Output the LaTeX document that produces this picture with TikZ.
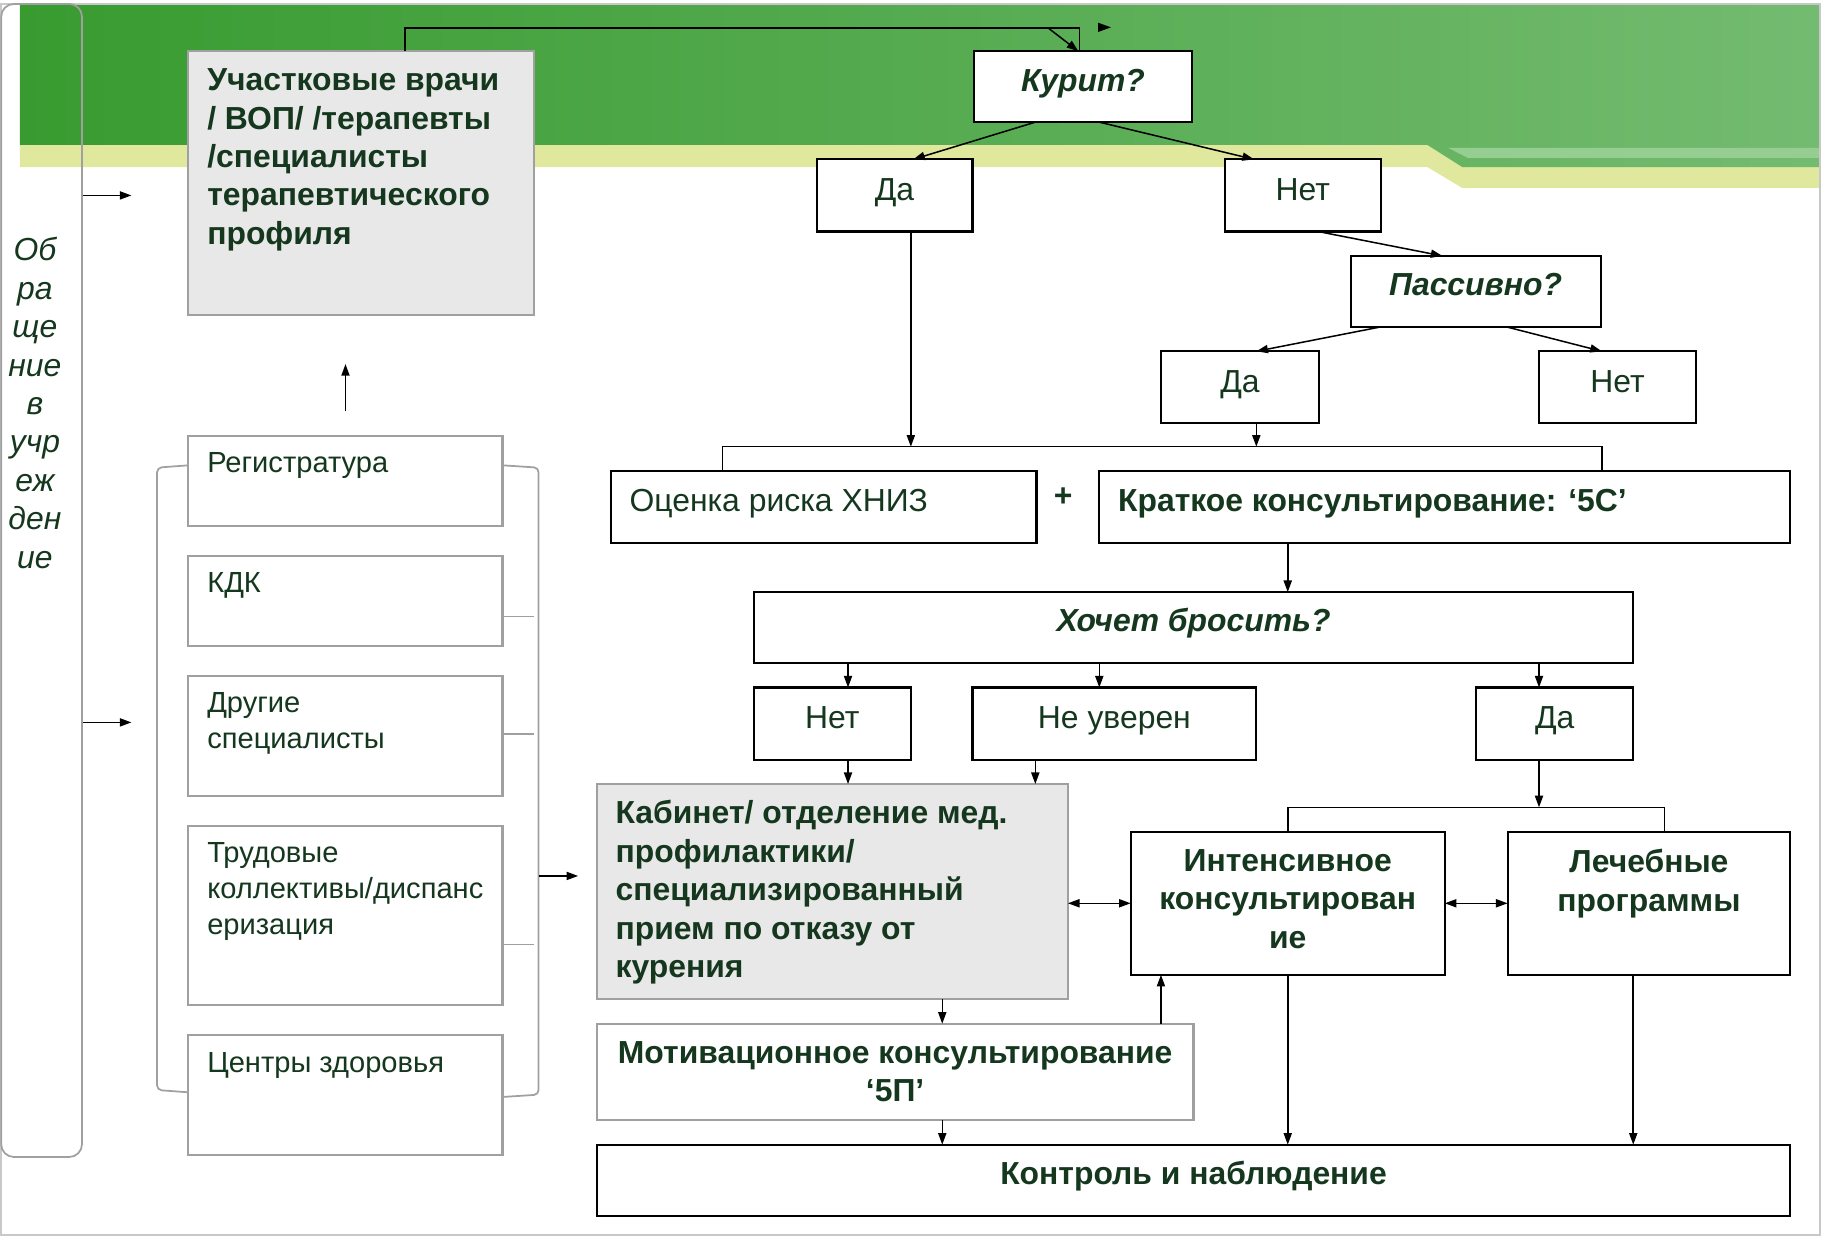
\documentclass[tikz,border=0pt]{standalone}
\usepackage{fontspec}
\setmainfont{Liberation Sans}
\usetikzlibrary{arrows.meta,calc}
\definecolor{txt}{RGB}{20,55,30}
\definecolor{gbord}{RGB}{160,160,160}
\definecolor{gfill}{RGB}{232,232,232}
\definecolor{framec}{RGB}{200,200,200}
\definecolor{gdark}{RGB}{56,155,48}
\definecolor{glight}{RGB}{115,187,112}
\definecolor{bandc}{RGB}{223,232,156}
\definecolor{stripec}{RGB}{150,205,145}
\tikzset{
  bx/.style={draw=black,line width=1.8pt,fill=white,inner sep=0pt,outer sep=0pt},
  gbx/.style={draw=gbord,line width=1.8pt,fill=white,inner sep=0pt,outer sep=0pt},
  gfbx/.style={gbx,fill=gfill},
  sz/.style n args={2}{minimum width=#1pt,minimum height=#2pt},
  t/.style={text=txt,inner sep=0pt,font=\fontsize{27.4}{33}\selectfont},
  tl/.style={text=txt,inner sep=0pt,font=\fontsize{25}{31}\selectfont},
  tb/.style={text=txt,inner sep=0pt,font=\fontsize{27.4}{33}\selectfont\bfseries},
  tbi/.style={text=txt,inner sep=0pt,font=\fontsize{27.4}{33}\selectfont\bfseries\itshape},
  ti/.style={text=txt,inner sep=0pt,font=\fontsize{27.4}{33}\selectfont\itshape},
  ln/.style={draw=black,line width=1.3pt},
  arr/.style={ln,-{Triangle[length=10pt,width=7pt]}},
  darr/.style={ln,{Triangle[length=10pt,width=7pt]}-{Triangle[length=10pt,width=7pt]}},
  brk/.style={draw=gbord,line width=1.5pt},
}
\begin{document}
\begin{tikzpicture}[x=1pt,y=-1pt]
\useasboundingbox (0,0) rectangle (1568,1066);
% banner
\fill[bandc] (17,124.6) -- (1227,124.6) -- (1257,143.6) -- (1564.5,143.6) -- (1564.5,161.6) -- (1257,161.6) -- (1227,143.6) -- (17,143.6) -- cycle;
\shade[left color=gdark,right color=glight] (17,3.4) -- (1564.5,3.4) -- (1564.5,143.6) -- (1257,143.6) -- (1227,124.6) -- (17,124.6) -- cycle;
\fill[stripec] (1245,127.2) -- (1564.5,127.2) -- (1564.5,135.8) -- (1262,135.8) -- cycle;
% frame
\draw[framec,line width=2pt] (1,3.4) rectangle (1564.5,1061.7);
% left rounded box
\node[draw=gbord,line width=1.5pt,rounded corners=11pt,inner sep=0pt,sz={69.5}{991.2}] (obr) at (35.75,499) {};
\node[ti,align=center,anchor=north] (obrt) at (30,204) {Об\\ра\\ще\\ние\\в\\учр\\еж\\ден\\ие};
% boxes
\node[gfbx,sz={297}{227}] (uch) at (310.5,157.5) {};
\node[gbx,sz={270}{77}] (reg) at (297,413.5) {};
\node[gbx,sz={270}{77}] (kdk) at (297,516.5) {};
\node[gbx,sz={270}{103}] (drug) at (297,632.5) {};
\node[gbx,sz={270}{154}] (trud) at (297,787) {};
\node[gbx,sz={270}{103}] (centr) at (297,941.5) {};
\node[bx,sz={188}{61}] (kurit) at (931,74.5) {};
\node[bx,sz={134}{62}] (da1) at (769,168) {};
\node[bx,sz={134}{62}] (net1) at (1120,168) {};
\node[bx,sz={215}{61}] (pass) at (1268.5,250.5) {};
\node[bx,sz={136}{62}] (da2) at (1066,333) {};
\node[bx,sz={135}{62}] (net2) at (1390.5,333) {};
\node[bx,sz={366}{62}] (ocen) at (708,436) {};
\node[bx,sz={594}{62}] (krat) at (1242,436) {};
\node[bx,sz={756}{61}] (hoch) at (1026,539.5) {};
\node[bx,sz={135}{62}] (net3) at (715.5,622) {};
\node[bx,sz={244}{62}] (neuv) at (958,622) {};
\node[bx,sz={135}{62}] (da3) at (1336.5,622) {};
\node[gfbx,sz={405}{185}] (kab) at (715.5,766.5) {};
\node[bx,sz={270}{123}] (int) at (1107,776.5) {};
\node[bx,sz={243}{123}] (lech) at (1417.5,776.5) {};
\node[gbx,sz={513}{83}] (motiv) at (769.5,921.5) {};
\node[bx,sz={1026}{61}] (kontr) at (1026,1014.5) {};
% texts
\node[tb,align=left,anchor=north west] (uchT) at ([xshift=16pt,yshift=-15pt]uch.north west) {Участковые врачи\\/ ВОП/ /терапевты\\/специалисты\\терапевтического\\профиля};
\node[tl,anchor=base west] (regT) at ([xshift=16pt,yshift=-31pt]reg.north west) {Регистратура};
\node[tl,anchor=base west] (kdkT) at ([xshift=16pt,yshift=-31pt]kdk.north west) {КДК};
\node[tl,align=left,anchor=north west] (drugT) at ([xshift=16pt,yshift=-14pt]drug.north west) {Другие\\специалисты};
\node[tl,align=left,anchor=north west] (trudT) at ([xshift=16pt,yshift=-14pt]trud.north west) {Трудовые\\коллективы/диспанс\\еризация};
\node[tl,anchor=base west] (centrT) at ([xshift=16pt,yshift=-32pt]centr.north west) {Центры здоровья};
\node[tbi,anchor=base] (kuritT) at ([yshift=-35pt]kurit.north) {Курит?};
\node[t,anchor=base] (da1T) at ([yshift=-35pt]da1.north) {Да};
\node[t,anchor=base] (net1T) at ([yshift=-35pt]net1.north) {Нет};
\node[tbi,anchor=base] (passT) at ([yshift=-34pt]pass.north) {Пассивно?};
\node[t,anchor=base] (da2T) at ([yshift=-35pt]da2.north) {Да};
\node[t,anchor=base] (net2T) at ([yshift=-35pt]net2.north) {Нет};
\node[t,anchor=base west] (ocenT) at ([xshift=16pt,yshift=-35pt]ocen.north west) {Оценка риска ХНИЗ};
\node[tb] (plus) at (914,427) {+};
\node[tb,anchor=base west] (kratT) at ([xshift=16pt,yshift=-35pt]krat.north west) {Краткое консультирование: ‘5C’};
\node[tbi,anchor=base] (hochT) at ([yshift=-34pt]hoch.north) {Хочет бросить?};
\node[t,anchor=base] (net3T) at ([yshift=-35pt]net3.north) {Нет};
\node[t,anchor=base] (neuvT) at ([yshift=-35pt]neuv.north) {Не уверен};
\node[t,anchor=base] (da3T) at ([yshift=-35pt]da3.north) {Да};
\node[tb,align=left,anchor=north west] (kabT) at ([xshift=16pt,yshift=-14pt]kab.north west) {Кабинет/ отделение мед.\\профилактики/\\специализированный\\прием по отказу от\\курения};
\node[tb,align=center,anchor=north] (intT) at ([yshift=-15pt]int.north) {Интенсивное\\консультирован\\ие};
\node[tb,align=center,anchor=north] (lechT) at ([yshift=-15pt]lech.north) {Лечебные\\программы};
\node[tb,align=center,anchor=north] (motivT) at ([yshift=-15pt]motiv.north) {Мотивационное консультирование\\‘5П’};
\node[tb,anchor=base] (kontrT) at ([yshift=-34pt]kontr.north) {Контроль и наблюдение};
% brackets
\draw[brk,rounded corners=4pt] (reg.west |- 0,400) -- (135,402) -- (135,937) -- (centr.west |- 0,939);
\draw[brk,rounded corners=4pt] (reg.east |- 0,400) -- (463,402) -- (463,941) -- (centr.east |- 0,943);
\draw[brk] (kdk.east |- 0,530) -- (459,530);
\draw[brk] (drug.east |- 0,631) -- (459,631);
\draw[brk] (trud.east |- 0,812) -- (459,812);
% left arrows
\coordinate (a1) at (113,168);
\coordinate (a2) at (113,621);
\draw[arr] (a1 -| obr.east) -- (a1);
\draw[arr] (a2 -| obr.east) -- (a2);
\coordinate (u1) at (297,353);
\coordinate (u2) at (297,313);
\draw[arr] (u1) -- (u2);
\coordinate (b1) at (463,753);
\coordinate (b2) at (497,753);
\draw[arr] (b1) -- (b2);
% top loop
\coordinate (tlc) at (348,24);
\coordinate (trc) at (928,24);
\coordinate (tdc) at (901,24);
\draw[ln] (tlc |- uch.north) -- (tlc) -- (trc) -- (trc |- kurit.north);
\draw[arr] (tdc) -- ([xshift=-4pt]kurit.north);
\fill (944,19.5) -- (955,23.5) -- (944,27.5) -- cycle;
% tree connectors
\draw[arr] ([xshift=-41pt]kurit.south) -- ([xshift=16pt]da1.north);
\draw[arr] ([xshift=14pt]kurit.south) -- ([xshift=-42pt]net1.north);
\draw[arr] ([xshift=13pt]net1.south) -- ([xshift=-28.5pt]pass.north);
\draw[arr] ([xshift=-81.5pt]pass.south) -- ([xshift=14pt]da2.north);
\draw[arr] ([xshift=26.5pt]pass.south) -- ([xshift=-13.5pt]net2.north);
\coordinate (jl) at (621,384);
\coordinate (jr) at (1377,384);
\draw[ln] (jl |- ocen.north) -- (jl) -- (jr) -- (jr |- krat.north);
\path ([xshift=14pt]da1.south) coordinate (d1s);
\path ([xshift=14pt]da2.south) coordinate (d2s);
\draw[arr] (d1s) -- (d1s |- jl);
\draw[arr] (d2s) -- (d2s |- jl);
\path ([xshift=-135pt]krat.south) coordinate (ks);
\draw[arr] (ks) -- (ks |- hoch.north);
\path ([xshift=13.5pt]net3.north) coordinate (n3n);
\path ([xshift=-13pt]neuv.north) coordinate (nun);
\path ([xshift=-13.5pt]da3.north) coordinate (d3n);
\draw[arr] (n3n |- hoch.south) -- (n3n);
\draw[arr] (nun |- hoch.south) -- (nun);
\draw[arr] (d3n |- hoch.south) -- (d3n);
\path ([xshift=13.5pt]net3.south) coordinate (n3s);
\path ([xshift=-68pt]neuv.south) coordinate (nus);
\draw[arr] (n3s) -- (n3s |- kab.north);
\draw[arr] (nus) -- (nus |- kab.north);
\coordinate (j2l) at (1107,694);
\coordinate (j2r) at (1431,694);
\draw[ln] (j2l |- int.north) -- (j2l) -- (j2r) -- (j2r |- lech.north);
\path ([xshift=-13.5pt]da3.south) coordinate (d3s);
\draw[arr] (d3s) -- (d3s |- j2l);
\draw[darr] (int.west -| kab.east) -- (int.west);
\draw[darr] (int.east) -- (lech.west);
\path ([xshift=94.5pt]kab.south) coordinate (kbs);
\draw[arr] (kbs) -- (kbs |- motiv.north);
\path ([xshift=-109pt]int.south) coordinate (is);
\draw[arr] (is |- motiv.north) -- (is);
\draw[arr] (kbs |- motiv.south) -- (kbs |- kontr.north);
\draw[arr] (int.south) -- (int.south |- kontr.north);
\path ([xshift=-13.5pt]lech.south) coordinate (ls);
\draw[arr] (ls) -- (ls |- kontr.north);
\end{tikzpicture}
\end{document}
